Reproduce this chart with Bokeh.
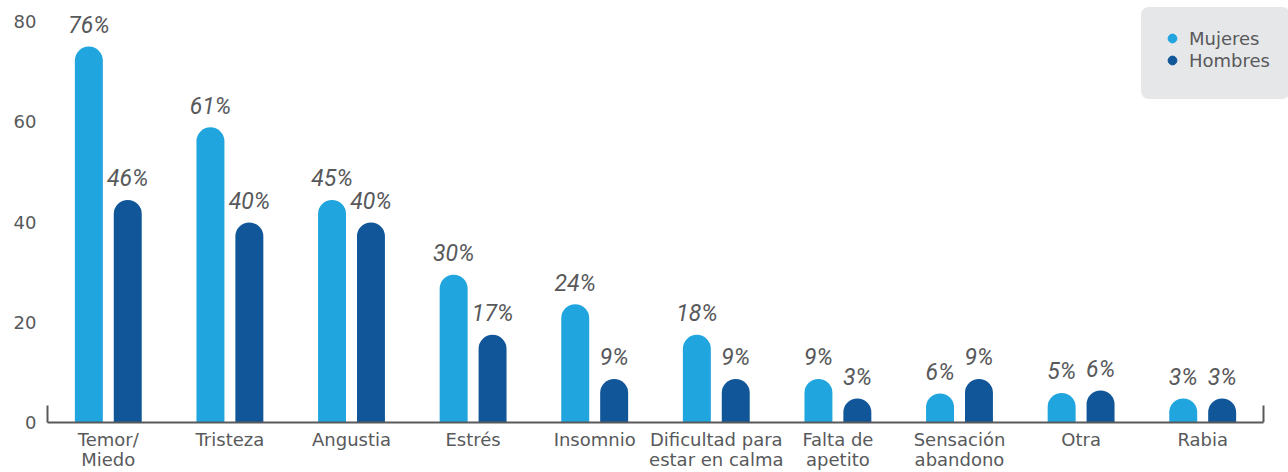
from bokeh.plotting import figure
from bokeh.models import (Range1d, LinearAxis, ColumnDataSource, Legend,
                          LegendItem, FixedTicker)
from bokeh.transform import dodge
from bokeh.core.properties import value
from bokeh.embed import file_html
from bokeh.resources import INLINE

# ---- data ----
categorias = ["Temor/\nMiedo", "Tristeza", "Angustia", "Estrés", "Insomnio",
              "Dificultad para\nestar en calma", "Falta de\napetito",
              "Sensación\nabandono", "Otra", "Rabia"]
mujeres_txt = ["76%", "61%", "45%", "30%", "24%", "18%", "9%", "6%", "5%", "3%"]
hombres_txt = ["46%", "40%", "40%", "17%", "9%", "9%", "3%", "9%", "6%", "3%"]
# drawn bar heights
mujeres_alto = [75.0, 58.9, 44.4, 29.5, 23.6, 17.5, 8.7, 5.8, 5.9, 4.8]
hombres_alto = [44.4, 39.9, 39.9, 17.5, 8.7, 8.7, 4.8, 8.7, 6.4, 4.8]
y_ticks = [0, 20, 40, 60, 80]
series = ["Mujeres", "Hombres"]

C_M = "#21a5de"
C_H = "#115699"
GRIS = "#58595b"
EJE = "#58595b"
LEG_BG = "#e6e7e9"
TXT_FONT = "DejaVu Sans"
LBL_FONT = "Roboto"

n = len(categorias)
idx = list(range(n))
src = ColumnDataSource(dict(i=idx, m=mujeres_alto, h=hombres_alto,
                            mt=mujeres_txt, ht=hombres_txt))

# frame spans to the right edge so the legend box can reach it;
# the x axis line itself is bounded to the category area
x_start = -0.5
x_end = n - 0.5
extra = 25 / 121.6
p = figure(x_range=Range1d(x_start, x_end + extra), y_range=Range1d(0, 84.2),
           width=1288, height=472,
           output_backend="svg", toolbar_location=None,
           min_border_left=47, min_border_right=0, min_border_top=0,
           min_border_bottom=49, outline_line_color=None)
p.xgrid.grid_line_color = None
p.ygrid.grid_line_color = None

OFF = 0.16
W = 0.23
p.vbar(x=dodge("i", -OFF), top="m", width=W, source=src,
       fill_color=C_M, line_color=None, border_radius=(14, 14, 0, 0))
p.vbar(x=dodge("i", OFF), top="h", width=W, source=src,
       fill_color=C_H, line_color=None, border_radius=(14, 14, 0, 0))

for off, col, txt in [(-OFF, "m", "mt"), (OFF, "h", "ht")]:
    p.text(x=dodge("i", off), y=col, text=txt, source=src,
           text_align="center", text_baseline="alphabetic", y_offset=-21,
           text_font=value(LBL_FONT), text_font_style="italic",
           text_font_size="23px", text_color=GRIS)

# x axis
xa = p.xaxis[0]
xa.ticker = FixedTicker(ticks=idx)
xa.major_label_overrides = {i: c for i, c in zip(idx, categorias)}
xa.bounds = (x_start, x_end)
xa.axis_line_color = EJE
xa.axis_line_width = 2
xa.major_tick_line_color = None
xa.minor_tick_line_color = None
xa.major_tick_out = 0
xa.major_tick_in = 0
xa.minor_tick_out = 0
xa.minor_tick_in = 0
xa.major_label_text_font = TXT_FONT
xa.major_label_text_font_size = "18px"
xa.major_label_text_color = GRIS
xa.major_label_text_line_height = 0.97
xa.major_label_standoff = 6

# left stub axis (default, next to the frame)
stub_h = 3.4
ys = p.yaxis[0]
ys.bounds = (0, stub_h)
ys.ticker = FixedTicker(ticks=[])
ys.major_tick_line_color = None
ys.minor_tick_line_color = None
ys.major_tick_out = 0
ys.major_tick_in = 0
ys.minor_tick_out = 0
ys.minor_tick_in = 0
ys.major_label_standoff = 0
ys.axis_line_color = EJE
ys.axis_line_width = 2

# right stub at the end of the category area
p.segment(x0=[x_end], y0=[0], x1=[x_end], y1=[stub_h], line_color=EJE, line_width=2)

# left label axis
ya = LinearAxis(ticker=FixedTicker(ticks=y_ticks), axis_line_color=None,
                major_tick_line_color=None, minor_tick_line_color=None,
                major_tick_out=0, major_tick_in=0, minor_tick_out=0, minor_tick_in=0,
                major_label_text_font=TXT_FONT, major_label_text_font_size="18px",
                major_label_text_color=GRIS, major_label_standoff=11)
p.add_layout(ya, "left")

# legend (proxy points kept below the visible range)
rm = p.scatter(x=[0], y=[-100], marker="circle", size=9, color=C_M)
rh = p.scatter(x=[0], y=[-100], marker="circle", size=9, color=C_H)
leg = Legend(items=[LegendItem(label=series[0], renderers=[rm]),
                    LegendItem(label=series[1], renderers=[rh])],
             location=(1094, 323), background_fill_color=LEG_BG,
             background_fill_alpha=1, border_line_color=LEG_BG,
             border_line_width=20, border_line_join="round", border_radius=8,
             glyph_width=22, glyph_height=22, label_height=22, spacing=0,
             padding=0, margin=0, label_standoff=6,
             title=" ", title_location="below", title_text_font_size="6px",
             title_standoff=2,
             label_text_font=TXT_FONT, label_text_font_size="18px",
             label_text_color=GRIS)
p.add_layout(leg)

open("out.html", "w").write(file_html(p, INLINE))
